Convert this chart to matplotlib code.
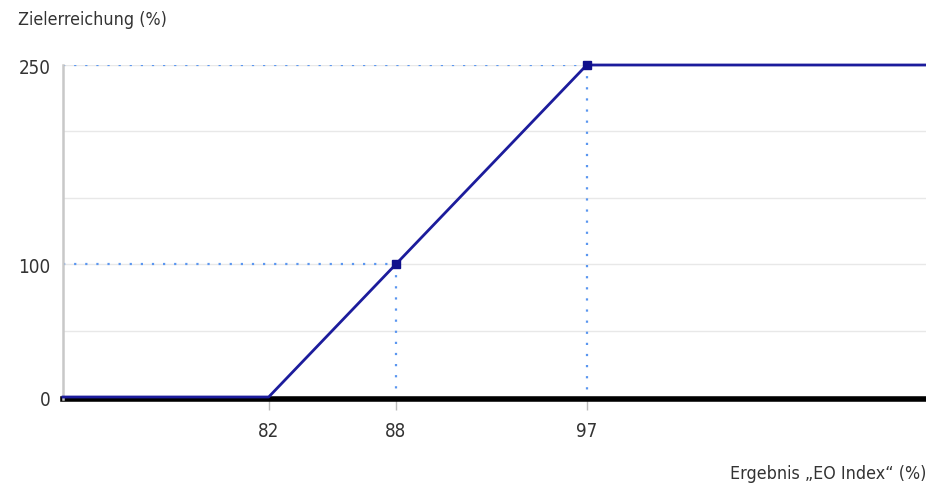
import matplotlib
matplotlib.use("Agg")
import matplotlib.pyplot as plt
import matplotlib.ticker as tck

plt.rcParams['font.family'] = ['DejaVu Sans']
plt.rcParams['font.stretch'] = 'condensed'

# Stützpunkte der Kurve
x_vals = [72.3, 82, 88, 97, 113]
y_vals = [0, 0, 100, 250, 250]
# markierte Punkte
mark_x = [88, 97]
mark_y = [100, 250]
x_ticks = [82, 88, 97]
y_ticks = [0, 100, 250]

line_col = '#1c1c9c'
dot_col = '#5a96f0'
text_col = '#333333'

fig = plt.figure(figsize=(9.26, 4.85), dpi=100)
ax = fig.add_axes([63/926, 85/485, 1 - 63/926, 334/485])

y0 = -1.5
ax.set_xlim(x_vals[0], x_vals[-1])
ax.set_ylim(y0, 250)

# Gitter alle 50
for g in range(50, 251, 50):
    ax.axhline(g, color='#e8e8e8', lw=1, zorder=0)

# gepunktete Hilfslinien
for mx, my in zip(mark_x, mark_y):
    ax.plot([x_vals[0], mx], [my, my], color=dot_col, lw=1.6, ls=(0, (1, 4)), zorder=1)
    ax.plot([mx, mx], [my, y0], color=dot_col, lw=1.6, ls=(0, (1, 4)), zorder=1)

ax.plot(x_vals, y_vals, color=line_col, lw=2, zorder=3, clip_on=False)
ax.plot(mark_x, mark_y, 's', color='#10108c', ms=6, zorder=4, clip_on=False)

for s in ['top', 'right']:
    ax.spines[s].set_visible(False)
ax.spines['left'].set_color('#c8c8c8')
ax.spines['left'].set_linewidth(1.8)
ax.spines['bottom'].set_color('black')
ax.spines['bottom'].set_linewidth(4)
ax.spines['bottom'].set_zorder(2)

ax.xaxis.set_major_locator(tck.FixedLocator(x_ticks))
ax.yaxis.set_major_locator(tck.FixedLocator(y_ticks))
ax.tick_params(axis='x', length=8, width=1, color='#bbbbbb', labelsize=13.5,
               labelcolor=text_col, pad=8)
ax.tick_params(axis='y', length=0, labelsize=13.5, labelcolor=text_col, pad=9)

fig.text(18/926, 1 - 20/485, 'Zielerreichung (%)', fontsize=12.8, color=text_col,
         ha='left', va='center')
fig.text(1.0, 1 - 474/485, 'Ergebnis \u201eEO Index\u201c (%)', fontsize=12.8,
         color=text_col, ha='right', va='center')

fig.savefig('out.png', dpi=100)
